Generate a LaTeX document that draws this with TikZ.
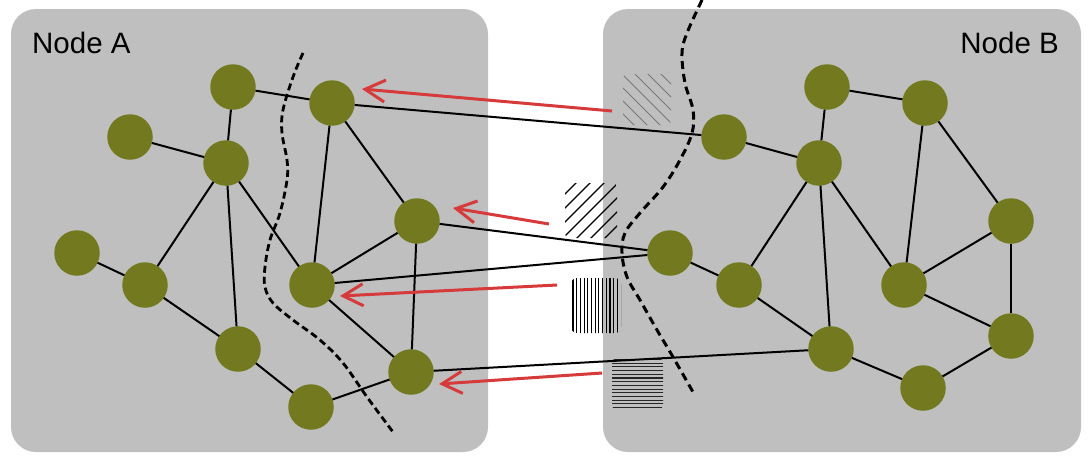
\documentclass[tikz,border=0pt]{standalone}
\usepackage{fontspec}
\setmainfont{Liberation Sans}
\usetikzlibrary{arrows.meta}
\definecolor{boxgray}{RGB}{191,191,191}
\definecolor{olivenode}{RGB}{115,121,31}
\definecolor{arrred}{RGB}{214,58,58}
\definecolor{hatchgray}{RGB}{120,120,120}
\begin{document}
\begin{tikzpicture}[x=1pt,y=-1pt,
  panel/.style={fill=boxgray, rounded corners=25pt},
  vert/.style={circle, fill=olivenode, minimum size=45.5pt, inner sep=0pt, outer sep=0pt},
  edge/.style={draw=black, line width=2pt},
  redarr/.style={draw=arrred, line width=3pt, -{Straight Barb[length=20pt,width=22pt,line width=3pt]}},
  cutA/.style={draw=black, line width=2.8pt, dash pattern=on 7pt off 4pt},
  cutB/.style={draw=black, line width=3pt, dash pattern=on 8pt off 5pt},
  lbl/.style={inner sep=0pt, font=\fontsize{29.5}{30}\selectfont}
]
\useasboundingbox (0,0) rectangle (1092,459);
\fill[panel] (11,9) rectangle (488,452);
\fill[panel] (603,9) rectangle (1081,452);

\node[lbl, anchor=base west] (la) at (32,53) {Node A};
\node[lbl, anchor=base east] (lb) at (1059,53) {Node B};

% hatched patches
\begin{scope}
  \clip[rounded corners=4pt] (623,74) rectangle (671,125);
  \foreach \c in {-65,-52,...,65}
    \draw[hatchgray, line width=1pt] (647+\c-40,99-40) -- (647+\c+40,99+40);
\end{scope}
\begin{scope}
  \clip[rounded corners=4pt] (565,183) rectangle (617,238);
  \foreach \c in {-70,-56,...,70}
    \draw[black, line width=1.2pt] (591+\c-45,210+45) -- (591+\c+45,210-45);
\end{scope}
\begin{scope}
  \clip[rounded corners=6pt] (571,278) rectangle (621,333);
  \foreach \c in {0,...,13}
    \draw[black, line width=1.1pt] (573+3.7*\c,276) -- (573+3.7*\c,335);
\end{scope}
\begin{scope}
  \clip[rounded corners=7pt] (612,357) rectangle (663,411);
  \foreach \c in {0,...,13}
    \draw[black!85, line width=1.1pt] (610,359.5+3.7*\c) -- (665,359.5+3.7*\c);
\end{scope}

% vertices A
\node[vert] (a1) at (233,87) {};
\node[vert] (a2) at (332,103) {};
\node[vert] (a3) at (130,137) {};
\node[vert] (a4) at (226,163) {};
\node[vert] (a5) at (417,221) {};
\node[vert] (a6) at (77,253) {};
\node[vert] (a7) at (145,285) {};
\node[vert] (a8) at (312,285) {};
\node[vert] (a9) at (238,349) {};
\node[vert] (a10) at (411,372) {};
\node[vert] (a11) at (311,407) {};
% vertices B
\node[vert] (b1) at (827,87) {};
\node[vert] (b2) at (925,103) {};
\node[vert] (b3) at (724,137) {};
\node[vert] (b4) at (819,163) {};
\node[vert] (b5) at (1011,221) {};
\node[vert] (b6) at (670,253) {};
\node[vert] (b7) at (739,285) {};
\node[vert] (b8) at (904,285) {};
\node[vert] (b9) at (831,349) {};
\node[vert] (b10) at (1011,336) {};
\node[vert] (b11) at (923,388) {};

% edges
\foreach \p/\q in {1/2,1/4,3/4,4/7,4/9,4/8,2/8,2/5,5/8,5/10,8/10,6/7,7/9,9/11,11/10}{
  \draw[edge] (a\p) -- (a\q);
  \draw[edge] (b\p) -- (b\q);
}
\draw[edge] (a2) -- (b3);
\draw[edge] (a5) -- (b6);
\draw[edge] (a8) -- (b6);
\draw[edge] (a10) -- (b9);

% cut lines
\draw[cutA] plot[smooth, tension=0.6] coordinates {(303,53) (293,77) (283,110) (282,133) (287,160) (287,180) (280,213) (270,240) (265,267) (265,287) (273,303) (293,320) (320,340) (343,363) (367,397) (393,432)};
\draw[cutB] plot[smooth, tension=0.6] coordinates {(702,0) (687,33) (682,53) (685,83) (693,110) (692,133) (680,160) (663,187) (640,213) (625,233) (622,253) (627,277) (640,300) (657,330) (673,357) (693,392)};

% red arrows
\coordinate (t1) at (612,111); \coordinate (h1) at (362,89);
\coordinate (t2) at (549,224); \coordinate (h2) at (453,208);
\coordinate (t3) at (557,285); \coordinate (h3) at (340,296);
\coordinate (t4) at (602,373); \coordinate (h4) at (439,384);
\draw[redarr] (t1) -- (h1);
\draw[redarr] (t2) -- (h2);
\draw[redarr] (t3) -- (h3);
\draw[redarr] (t4) -- (h4);
\end{tikzpicture}
\end{document}
